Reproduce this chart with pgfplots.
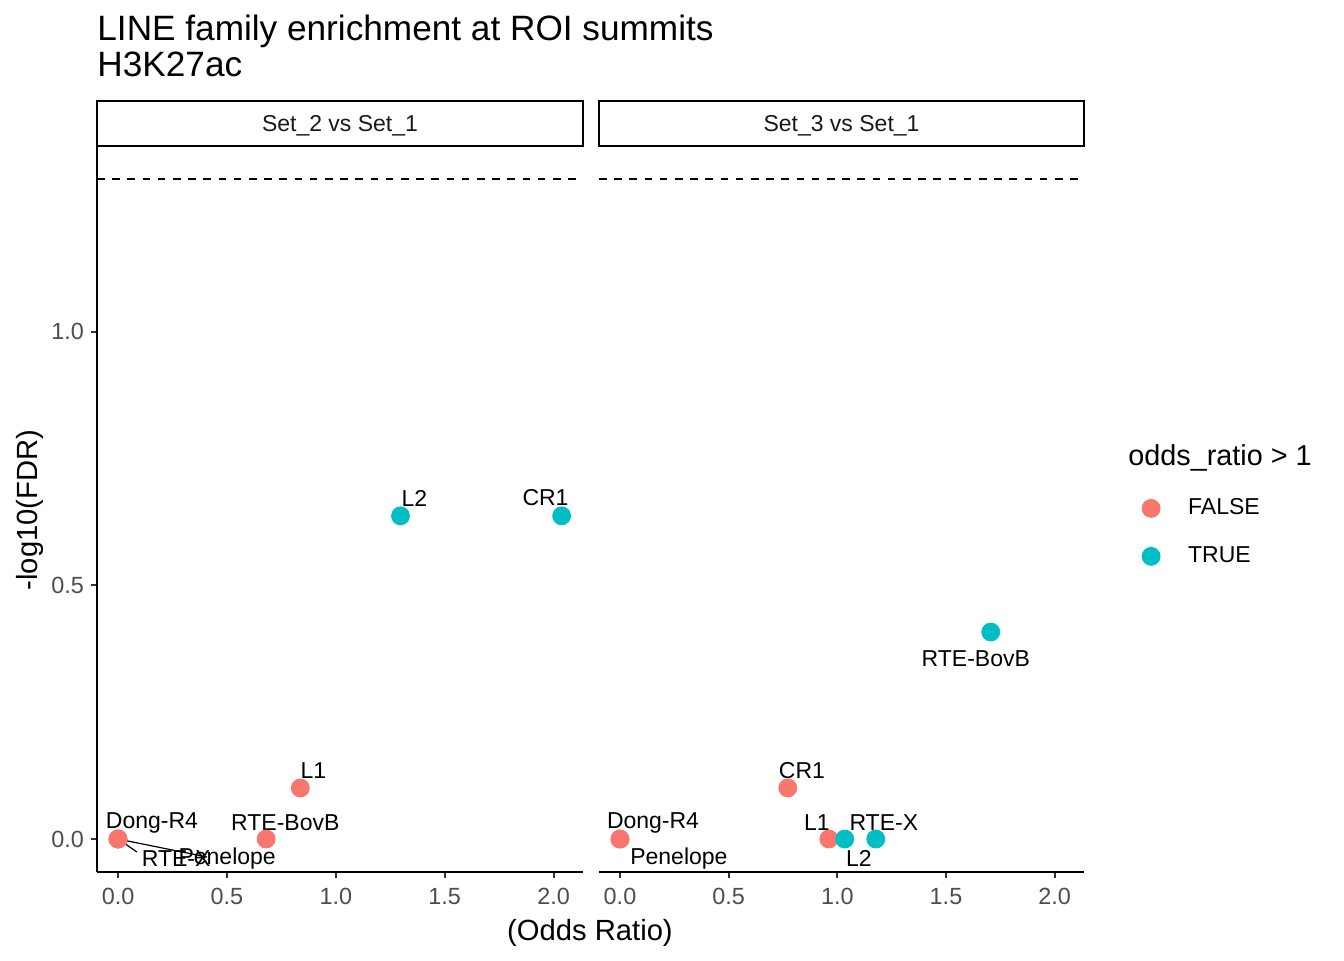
\documentclass[border=0pt]{standalone}
\usepackage{fontspec}
\setmainfont{Liberation Sans}
\usepackage{pgfplots}
\pgfplotsset{compat=1.18}
\definecolor{cf}{HTML}{F8766D}
\definecolor{ct}{HTML}{00BFC4}
\definecolor{tickgray}{HTML}{4D4D4D}
\tikzset{lbl/.style={font=\fontsize{11.5}{13}\selectfont, inner sep=0pt, anchor=center, yshift=-1.25pt}}
\pgfplotsset{
  panel/.style={
    scale only axis, height=363pt,
    xmin=-0.0966, xmax=2.135, ymin=-0.065, ymax=1.366,
    xtick={0,0.5,1,1.5,2},
    xticklabels={0.0,0.5,1.0,1.5,2.0},
    axis x line*=bottom,
    axis line style={line width=1.07pt, -},
    tick style={line width=0.9pt, black!80},
    tick align=outside, major tick length=3pt,
    ticklabel style={font=\fontsize{11.7}{13}\selectfont, text=tickgray},
    xticklabel style={yshift=-1.5pt},
    /pgf/number format/assume math mode=true,
    clip=false,
  },
}
\begin{document}
\begin{tikzpicture}
\useasboundingbox (0,0) rectangle (672pt,480pt);
% titles
\node[anchor=base west, inner sep=0pt, font=\fontsize{17.6}{20}\selectfont] at (48.5pt,459.5pt) {LINE family enrichment at ROI summits};
\node[anchor=base west, inner sep=0pt, font=\fontsize{17.6}{20}\selectfont] at (48.5pt,441.5pt) {H3K27ac};
% strips
\draw[line width=1.4pt] (48.5pt,407pt) rectangle (291.5pt,429.5pt);
\node[anchor=base, inner sep=0pt, font=\fontsize{11.5}{13}\selectfont, text=black!90] at (170pt,414pt) {Set\_2 vs Set\_1};
\draw[line width=1.4pt] (299.5pt,407pt) rectangle (542pt,429.5pt);
\node[anchor=base, inner sep=0pt, font=\fontsize{11.5}{13}\selectfont, text=black!90] at (420.75pt,414pt) {Set\_3 vs Set\_1};
% axis titles
\node[rotate=90, font=\fontsize{14.6}{16}\selectfont] at (15pt,225pt) {-log10(FDR)};
\node[font=\fontsize{14.6}{16}\selectfont] at (295pt,13.5pt) {(Odds Ratio)};

\begin{axis}[panel, width=243pt, at={(48.5pt,44pt)}, anchor=south west,
  axis y line*=left,
  ytick={0,0.5,1}, yticklabels={0.0,0.5,1.0}]
\addplot[line width=1pt, dash pattern=on 3.8pt off 3.8pt] coordinates {(-0.0966,1.30103) (2.135,1.30103)};
\draw[line width=0.6pt] (axis cs:0,0) -- (axis cs:0.087,-0.0256);
\draw[line width=0.6pt] (axis cs:0,0) -- (axis cs:0.409,-0.0355);
% FALSE
\addplot[only marks, mark=*, mark size=4.5pt, color=cf] table {
x y
0.837 0.1006
0.680 0
0 0
0 0
0 0
};
% TRUE
\addplot[only marks, mark=*, mark size=4.5pt, color=ct] table {
x y
1.297 0.637
2.037 0.637
};
\node[lbl] at (axis cs:1.361,0.677) {L2};
\node[lbl] at (axis cs:1.963,0.677) {CR1};
\node[lbl] at (axis cs:0.897,0.140) {L1};
\node[lbl] at (axis cs:0.156,0.0375) {Dong-R4};
\node[lbl] at (axis cs:0.768,0.0375) {RTE-BovB};
\node[lbl] at (axis cs:0.267,-0.0335) {RTE-X};
\node[lbl] at (axis cs:0.501,-0.0335) {Penelope};
\end{axis}

\begin{axis}[panel, width=242.5pt, at={(299.5pt,44pt)}, anchor=south west,
  axis y line=none, ytick=\empty,
  legend style={at={(1.119,0.52)}, anchor=north west, draw=none, fill=none,
    font=\fontsize{11.5}{13}\selectfont, row sep=10.5pt, column sep=12pt, inner sep=0pt},
  legend cell align=left]
\addplot[line width=1pt, dash pattern=on 3.8pt off 3.8pt, forget plot] coordinates {(-0.0966,1.30103) (2.135,1.30103)};
\addplot[only marks, mark=*, mark size=4.5pt, color=cf] table {
x y
0.772 0.1006
0 0
0 0
0.961 0
};
\addlegendentry{FALSE}
\addplot[only marks, mark=*, mark size=4.5pt, color=ct] table {
x y
1.706 0.408
1.034 0
1.177 0
};
\addlegendentry{TRUE}
\node[lbl] at (axis cs:1.637,0.361) {RTE-BovB};
\node[lbl] at (axis cs:0.837,0.140) {CR1};
\node[lbl] at (axis cs:0.152,0.0375) {Dong-R4};
\node[lbl] at (axis cs:0.271,-0.0335) {Penelope};
\node[lbl] at (axis cs:0.906,0.0375) {L1};
\node[lbl] at (axis cs:1.214,0.0375) {RTE-X};
\node[lbl] at (axis cs:1.099,-0.0335) {L2};
\end{axis}
\node[anchor=west, inner sep=0pt, font=\fontsize{14.4}{16}\selectfont] at (564pt,251pt) {odds\_ratio > 1};
\end{tikzpicture}
\end{document}
